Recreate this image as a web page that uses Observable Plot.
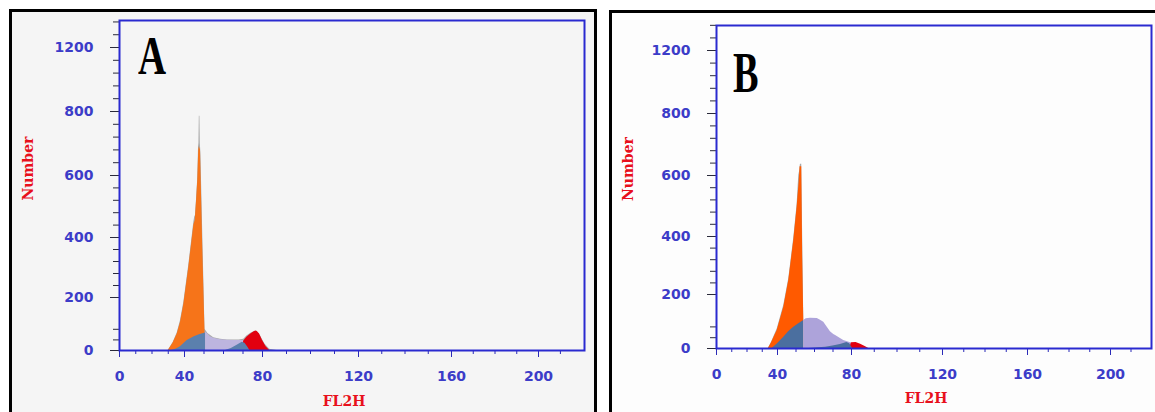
<!DOCTYPE html>
<html><head><meta charset="utf-8">
<script src="https://cdn.jsdelivr.net/npm/d3@7"></script>
<script src="https://cdn.jsdelivr.net/npm/@observablehq/plot@0.6"></script>
<style>
body{margin:0;width:1155px;height:412px;position:relative;overflow:hidden;background:#fff;}
.panel{position:absolute;border:3px solid #000;box-sizing:border-box;}
#panelA{left:9px;top:9px;width:588px;height:430px;background:#f5f5f5;}
#panelB{left:609px;top:10px;width:600px;height:430px;background:#fdfdfd;}
.chart{position:absolute;top:0;}
.letter{position:absolute;font-family:"Liberation Serif",serif;font-weight:bold;line-height:1;transform-origin:0 0;color:#000;}
</style></head><body>
<div class="panel" id="panelA"></div>
<div class="panel" id="panelB"></div>
<div class="chart" id="chartA" style="left:0"></div>
<div class="chart" id="chartB" style="left:600px"></div>
<div class="letter" id="letterA" style="left:138px;top:29px;font-size:54px;transform:scaleX(0.72)">A</div>
<div class="letter" id="letterB" style="left:733px;top:44px;font-size:58px;transform:scaleX(0.66)">B</div>
<script>
// ---- tick values and labels ----
const yTicks = [0, 200, 400, 600, 800, 1200];
const yMinor = [40, 80, 240, 280, 320, 360, 440, 480, 520, 560, 640, 680, 720, 760, 880, 960, 1040, 1120, 1280, 1360];
const xTicks = [0, 40, 80, 120, 160, 200];
const xMinor = [10, 20, 30, 50, 60, 70, 90, 100, 110, 130, 140, 150, 170, 180, 190, 210];
const xTitle = "FL2H";
const yTitle = "Number";

// ---- Panel A (FL2H channel vs count) ----
const totalA_x = [30, 33, 35.5, 37.5, 39.6, 42.2, 44.8, 45.3, 45.6, 46.2, 46.8, 47.2, 47.4, 47.6, 47.9, 48.1, 48.4, 50.5, 52, 55, 58.5, 62, 65.3, 68, 70.4, 72, 74, 76, 77.2, 79, 81, 83, 86];
const totalA_y = [0, 30, 66, 112, 182, 308, 450, 468, 470, 526, 592, 690, 700, 785, 785, 700, 670, 80, 64, 48, 42, 40, 40, 40, 42, 55, 65, 72, 73, 55, 25, 5, 0];
const orangeA_x = [30, 33, 35.5, 37.5, 39.6, 42.2, 44.8, 45.5, 46.2, 46.8, 47.3, 47.6, 48.2, 49.3, 50.5];
const orangeA_y = [0, 28, 62, 105, 175, 300, 440, 455, 520, 585, 680, 690, 680, 380, 72];
const blueA_x = [32, 35, 37.5, 41.4, 45, 48, 50.8];
const blueA_y = [0, 6, 14, 38, 52, 60, 66];
const lavA_x = [50.8, 52, 53.3, 55, 58.5, 62, 65.3, 68, 70.4];
const lavA_y = [70, 62, 52, 46, 41, 39, 38, 38, 38];
const redA_x = [69.5, 70.4, 72, 74, 75.5, 76.5, 77.3, 78.5, 80, 81.5, 83];
const redA_y = [0, 36, 50, 62, 70, 74, 72, 62, 38, 14, 0];
const blue2A_x = [61, 64, 67, 69.6, 71, 72.5, 73.5];
const blue2A_y = [0, 8, 20, 31, 27, 12, 0];

// ---- Panel B ----
const totalB_x = [34, 36, 39.8, 43.4, 46.1, 48.8, 50.6, 51.5, 52.0, 52.4, 53.1, 54.2];
const totalB_y = [0, 22, 72, 160, 255, 395, 505, 600, 615, 636, 636, 104];
const orangeB_x = [34, 36, 39.8, 43.4, 46.1, 48.8, 50.6, 51.7, 52.2, 53.1, 53.6, 54.2];
const orangeB_y = [0, 20, 67, 153, 248, 386, 496, 578, 628, 628, 330, 104];
const blueB_x = [36.5, 40, 43.4, 46, 48.8, 51.5, 54.2];
const blueB_y = [0, 18, 42, 62, 79, 92, 104];
const lavB_x = [54.2, 55.5, 57.8, 61.5, 63, 65, 68.6, 70.4, 71.4, 75.8, 79.5, 80];
const lavB_y = [104, 110, 112, 111, 106, 97, 62, 52, 48, 30, 21, 20];
const redB_x = [79, 80, 82, 84, 86, 87.6];
const redB_y = [0, 21, 22, 16, 7, 0];
const blue2B_x = [57, 62, 66, 70, 74, 77.5, 79, 80.5];
const blue2B_y = [0, 3, 5, 9, 15, 22, 18, 0];

const pts = (xs, ys) => xs.map((x, i) => ({x, y: ys[i]}));

function panel(p) {
  const blueText = "#3c3cc8";
  return Plot.plot({
    width: p.width, height: 412,
    marginLeft: p.ml, marginTop: p.mt, marginRight: p.mr, marginBottom: p.mb,
    style: {background: "transparent", overflow: "visible", fontFamily: "DejaVu Sans"},
    x: {type: "linear", domain: p.xDomain, range: p.xRange, label: null},
    y: {type: "linear", domain: p.yDomain, range: p.yRange, label: null},
    marks: [
      Plot.areaY(pts(p.total[0], p.total[1]), {x: "x", y: "y", fill: "#a9a9a9"}),
      Plot.areaY(pts(p.orange[0], p.orange[1]), {x: "x", y: "y", fill: p.orangeColor}),
      Plot.areaY(pts(p.blue[0], p.blue[1]), {x: "x", y: "y", fill: p.blueColor}),
      Plot.areaY(pts(p.lav[0], p.lav[1]), {x: "x", y: "y", fill: p.lavColor}),
      Plot.areaY(pts(p.red[0], p.red[1]), {x: "x", y: "y", fill: "#e2000f"}),
      Plot.areaY(pts(p.blue2[0], p.blue2[1]), {x: "x", y: "y", fill: p.blueColor}),
      Plot.axisY(yMinor, {tickSize: 6, stroke: "#2a2a3a", tickFormat: () => "", label: null}),
      Plot.axisY(yTicks, {tickSize: 9, tickPadding: 17, stroke: "#2a2a3a", fill: blueText, fontSize: 14, fontWeight: "bold", tickFormat: d => String(d), label: null}),
      Plot.axisX(xMinor, {tickSize: 4, stroke: "#2b2bb8", tickFormat: () => "", label: null}),
      Plot.axisX(xTicks, {tickSize: 7, tickPadding: 14, stroke: "#2b2bb8", fill: blueText, fontSize: 14, fontWeight: "bold", tickFormat: d => String(d), label: null}),
      Plot.frame({stroke: "#2a2ad0", strokeWidth: 2}),
      Plot.text([xTitle], {text: d => d, frameAnchor: "bottom", textAnchor: "middle", dx: p.xtDx, dy: p.xtDy, fill: "#e8101c", fontFamily: "DejaVu Serif", fontWeight: "bold", fontSize: 14}),
      Plot.text([yTitle], {text: d => d, frameAnchor: "left", textAnchor: "middle", rotate: -90, dx: p.ytDx, dy: p.ytDy, fill: "#e8101c", fontFamily: "DejaVu Serif", fontWeight: "bold", fontSize: 14})
    ]
  });
}

document.getElementById("chartA").append(panel({
  width: 600, ml: 119, mt: 20, mr: 16, mb: 62,
  xDomain: [0, 40, 80, 120, 160, 200, 221], xRange: [119, 184, 262, 358, 451, 538, 584],
  yDomain: [0, 200, 400, 600, 800, 1200, 1369], yRange: [350, 297, 237, 175, 111, 47, 20],
  total: [totalA_x, totalA_y], orange: [orangeA_x, orangeA_y], blue: [blueA_x, blueA_y],
  lav: [lavA_x, lavA_y], red: [redA_x, redA_y], blue2: [blue2A_x, blue2A_y],
  orangeColor: "#f67419", blueColor: "#5b80ad", lavColor: "#bdb5df",
  xtDx: -8, xtDy: 55, ytDx: -91, ytDy: -17
}));
document.getElementById("chartB").append(panel({
  width: 555, ml: 116, mt: 25, mr: 4, mb: 64,
  xDomain: [0, 40, 80, 120, 160, 200, 220], xRange: [116, 177, 251, 342, 427, 510, 551],
  yDomain: [0, 200, 400, 600, 800, 1200, 1359], yRange: [348, 294, 236, 175, 113, 50, 25],
  total: [totalB_x, totalB_y], orange: [orangeB_x, orangeB_y], blue: [blueB_x, blueB_y],
  lav: [lavB_x, lavB_y], red: [redB_x, redB_y], blue2: [blue2B_x, blue2B_y],
  orangeColor: "#ff5a00", blueColor: "#4b6f9f", lavColor: "#ada3da",
  xtDx: -8, xtDy: 54, ytDx: -88, ytDy: -18
}));
</script>
</body></html>
